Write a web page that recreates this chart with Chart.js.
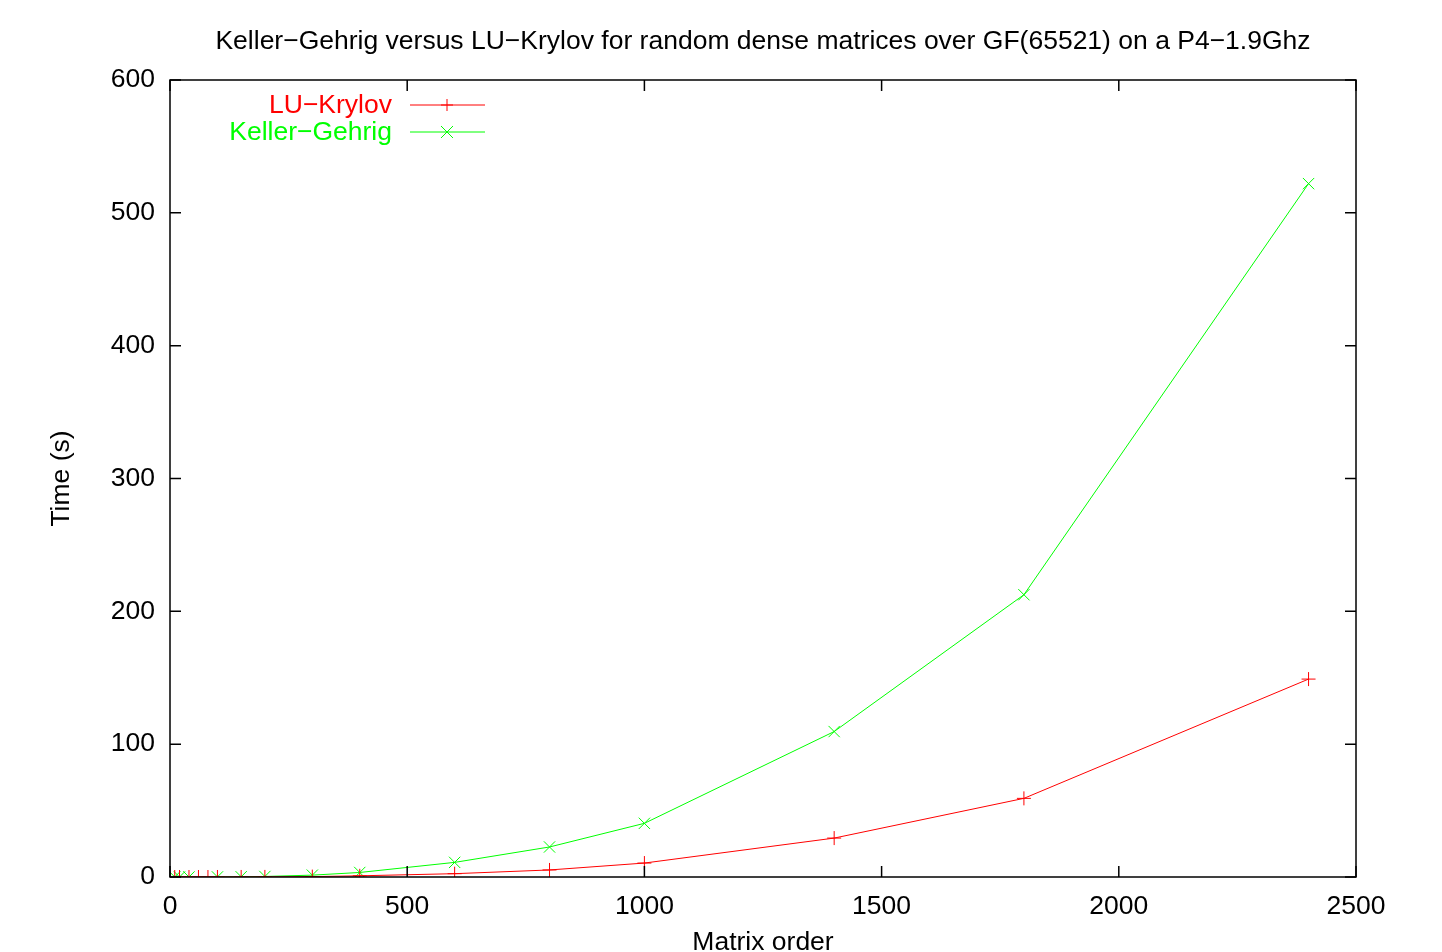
<!DOCTYPE html>
<html>
<head>
<meta charset="utf-8">
<script src="https://cdn.jsdelivr.net/npm/chart.js@4.4.1/dist/chart.umd.min.js"></script>
<style>
  html, body { margin: 0; padding: 0; background: #fff; }
  #wrap { position: relative; width: 1442px; height: 952px; }
</style>
</head>
<body>
<div id="wrap"><canvas id="grafik"></canvas></div>
<script>
// data (detik)
const orderLU = [10, 20, 40, 60, 80, 100, 150, 200, 300, 400, 600, 800, 1000, 1400, 1800, 2400];
const timeLU  = [0, 0, 0, 0, 0, 0.01, 0.03, 0.07, 0.3, 0.9, 2.5, 5.3, 10.5, 29.3, 59.2, 149];
const orderKG = [10, 20, 40, 100, 150, 200, 300, 400, 600, 800, 1000, 1400, 1800, 2400];
const timeKG  = [0, 0, 0.01, 0.06, 0.18, 0.4, 1.4, 3.4, 11, 22.6, 40.4, 109.5, 212.5, 522];
const xTicks = [0, 500, 1000, 1500, 2000, 2500];
const yTicks = [0, 100, 200, 300, 400, 500, 600];

const judul = 'Keller\u2212Gehrig versus LU\u2212Krylov for random dense matrices over GF(65521) on a P4\u22121.9Ghz';
const seriNama = ['LU\u2212Krylov', 'Keller\u2212Gehrig'];
const seriWarna = ['#ff0000', '#00ff00'];
const seriTitik = ['cross', 'crossRot'];

const FONT = '"Liberation Sans", Arial, Helvetica, sans-serif';
const UKURAN = 26.5;
const toXY = (xs, ys) => xs.map((x, i) => ({ x: x, y: ys[i] }));

// plugin: judul, kotak, tick ke dalam (gaya gnuplot), legenda
const gayaGnuplot = {
    id: 'gayaGnuplot',
    afterDraw(chart) {
        const { ctx, chartArea: a, scales } = chart;
        ctx.save();
        // judul
        ctx.fillStyle = '#000';
        ctx.font = UKURAN + 'px ' + FONT;
        ctx.textAlign = 'center';
        ctx.textBaseline = 'middle';
        ctx.fillText(judul, 763, 42);

        // kotak
        ctx.strokeStyle = '#000';
        ctx.lineWidth = 1.5;
        ctx.strokeRect(a.left, a.top, a.right - a.left, a.bottom - a.top);

        // tick ke dalam di empat sisi
        const len = 11;
        ctx.beginPath();
        xTicks.forEach(v => {
            const px = scales.x.getPixelForValue(v);
            ctx.moveTo(px, a.bottom); ctx.lineTo(px, a.bottom - len);
            ctx.moveTo(px, a.top); ctx.lineTo(px, a.top + len);
        });
        yTicks.forEach(v => {
            const py = scales.y.getPixelForValue(v);
            ctx.moveTo(a.left, py); ctx.lineTo(a.left + len, py);
            ctx.moveTo(a.right, py); ctx.lineTo(a.right - len, py);
        });
        ctx.stroke();

        // legenda
        ctx.textAlign = 'right';
        seriNama.forEach((nama, i) => {
            const y = 105 + i * 27;
            ctx.fillStyle = seriWarna[i];
            ctx.fillText(nama, 392, y + 1);
            ctx.strokeStyle = seriWarna[i];
            ctx.lineWidth = 1;
            ctx.beginPath();
            ctx.moveTo(410, y); ctx.lineTo(485, y);
            const r = 6;
            if (i === 0) {
                ctx.moveTo(447 - r, y); ctx.lineTo(447 + r, y);
                ctx.moveTo(447, y - r); ctx.lineTo(447, y + r);
            } else {
                ctx.moveTo(447 - r, y - r); ctx.lineTo(447 + r, y + r);
                ctx.moveTo(447 - r, y + r); ctx.lineTo(447 + r, y - r);
            }
            ctx.stroke();
        });
        ctx.restore();
    }
};

const ctx = document.getElementById('grafik').getContext('2d');
new Chart(ctx, {
    type: 'line',
    data: {
        datasets: [
            {
                label: seriNama[0],
                data: toXY(orderLU, timeLU),
                borderColor: seriWarna[0],
                backgroundColor: seriWarna[0],
                borderWidth: 1,
                pointStyle: seriTitik[0],
                pointRadius: 7,
                pointBorderWidth: 1,
                tension: 0
            },
            {
                label: seriNama[1],
                data: toXY(orderKG, timeKG),
                borderColor: seriWarna[1],
                backgroundColor: seriWarna[1],
                borderWidth: 1,
                pointStyle: seriTitik[1],
                pointRadius: 8,
                pointBorderWidth: 1,
                tension: 0
            }
        ]
    },
    options: {
        responsive: true,
        maintainAspectRatio: false,
        animation: false,
        layout: { padding: { top: 80, right: 86, left: 0, bottom: 0 } },
        plugins: {
            legend: { display: false },
            title: { display: false },
            tooltip: { enabled: false }
        },
        scales: {
            x: {
                type: 'linear',
                min: 0, max: 2500,
                afterBuildTicks: s => { s.ticks = xTicks.map(v => ({ value: v })); },
                afterFit: s => { s.height = 75; },
                grid: { display: false, drawTicks: false },
                border: { display: false },
                ticks: { color: '#000', padding: 14, maxRotation: 0, callback: v => String(v), font: { family: FONT, size: UKURAN } },
                title: { display: true, text: 'Matrix order', color: '#000', padding: { top: 0, bottom: -7 }, font: { family: FONT, size: UKURAN } }
            },
            y: {
                min: 0, max: 600,
                afterBuildTicks: s => { s.ticks = yTicks.map(v => ({ value: v })); },
                afterFit: s => { s.width = 170; },
                grid: { display: false, drawTicks: false },
                border: { display: false },
                ticks: { color: '#000', padding: 15, callback: v => String(v), font: { family: FONT, size: UKURAN } },
                title: { display: true, text: 'Time (s)', color: '#000', padding: { top: 46, bottom: 0 }, font: { family: FONT, size: UKURAN } }
            }
        }
    },
    plugins: [gayaGnuplot]
});
</script>
</body>
</html>
